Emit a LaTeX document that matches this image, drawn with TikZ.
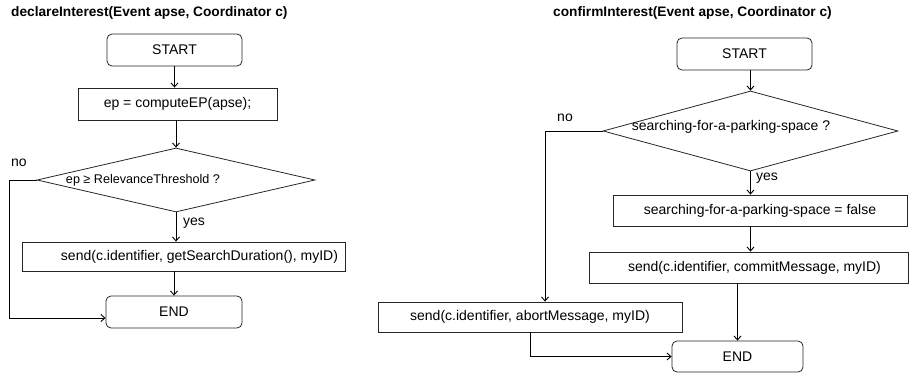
\documentclass[tikz,border=0pt]{standalone}
\usepackage{fontspec}
\setmainfont{Liberation Sans}
\usetikzlibrary{arrows.meta,shapes.geometric}
\begin{document}
\begin{tikzpicture}[x=1pt,y=-1pt,
  txt/.style={font=\fontsize{14}{16}\selectfont, inner sep=0pt},
  ttl/.style={font=\fontsize{13.7}{16}\selectfont\bfseries, inner sep=0pt, anchor=west},
  pbox/.style={draw=black!85, line width=0.8pt, inner sep=0pt, font=\fontsize{14}{16}\selectfont},
  rbox/.style={pbox, rounded corners=5pt},
  dbox/.style={draw=black!85, line width=0.8pt, shape=diamond, inner sep=0pt},
  arr/.style={draw=black, line width=0.9pt, -{Straight Barb[length=4pt,width=7pt,line width=0.9pt]}}
]
\useasboundingbox (0,0) rectangle (913,374);

% ---------- left flowchart ----------
\node[ttl] (t1) at (11,13) {declareInterest(Event apse, Coordinator c)};
\node[rbox, minimum width=135pt, minimum height=32pt] (s1) at (174.5,50) {START};
\node[pbox, minimum width=199pt, minimum height=32pt] (ep) at (177.5,104) {ep = computeEP(apse);};
\node[dbox, minimum width=278pt, minimum height=64pt] (d1) at (176,180) {};
\node[txt, font=\fontsize{12.6}{15}\selectfont] (d1t) at (143,180) {ep ≥ RelevanceThreshold ?};
\node[txt] (no1) at (19,163) {no};
\node[txt, anchor=west] (yes1) at (183,223) {yes};
\node[pbox, minimum width=323pt, minimum height=29pt] (snd1) at (183.5,256.5) {\hspace*{32pt}send(c.identifier, getSearchDuration(), myID)};
\node[rbox, minimum width=136pt, minimum height=32pt] (e1) at (174,312) {END};

\draw[arr] (s1.south) -- (s1.south |- ep.north);
\draw[arr] (d1.north |- ep.south) -- (d1.north);
\draw[arr] (d1.south) -- (d1.south |- snd1.north);
\draw[arr] (snd1.south -| e1.north) -- (e1.north);
\draw[arr] (d1.west) -- ++(-27,0) |- ([yshift=-6pt]e1.west);

% ---------- right flowchart ----------
\node[ttl] (t2) at (553,13) {confirmInterest(Event apse, Coordinator c)};
\node[rbox, minimum width=135pt, minimum height=32pt] (s2) at (744.5,54) {START};
\node[dbox, minimum width=295pt, minimum height=80pt] (d2) at (750.5,131) {};
\node[txt] (d2t) at (731,127) {searching-for-a-parking-space ?};
\node[txt] (no2) at (565,118) {no};
\node[txt, anchor=west] (yes2) at (756,178) {yes};
\node[pbox, minimum width=294pt, minimum height=31pt] (f2) at (760,210.5) {searching-for-a-parking-space = false};
\node[pbox, minimum width=319pt, minimum height=31pt] (c2) at (748.5,267.5) {\hspace*{12pt}send(c.identifier, commitMessage, myID)};
\node[pbox, minimum width=304pt, minimum height=30pt] (a2) at (530,317) {send(c.identifier, abortMessage, myID)};
\node[rbox, minimum width=131pt, minimum height=31pt] (e2) at (737.5,356.5) {END};

\draw[arr] (s2.south -| d2.north) -- (d2.north);
\draw[arr] (d2.south) -- (d2.south |- f2.north);
\draw[arr] (f2.south -| d2.south) -- (d2.south |- c2.north);
\draw[arr] (c2.south -| e2.north) -- (e2.north);
\draw[arr] (d2.west) -| ([xshift=15pt]a2.north);
\draw[arr] (a2.south) |- (e2.west);
\end{tikzpicture}
\end{document}
